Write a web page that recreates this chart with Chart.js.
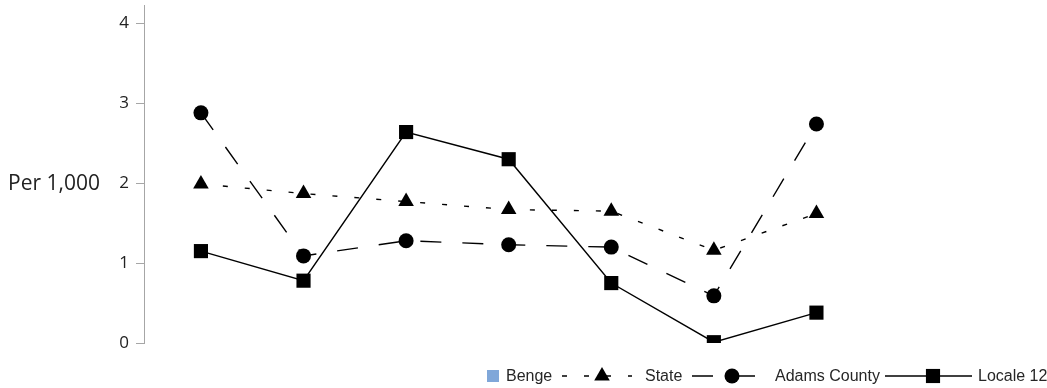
<!DOCTYPE html>
<html>
<head>
<meta charset="utf-8">
<script src="https://cdn.jsdelivr.net/npm/chart.js@4.4.0/dist/chart.umd.min.js"></script>
<style>
  body { margin: 0; background: #fff; }
  #wrap { width: 1047px; height: 388px; }
</style>
</head>
<body>
<div id="wrap"><canvas id="rateChart"></canvas></div>
<script>
// values, per 1,000
const categories = [1, 2, 3, 4, 5, 6, 7];
const benge = [];
const state = [1.99, 1.87, 1.77, 1.67, 1.65, 1.16, 1.62];
const adamsCounty = [2.88, 1.09, 1.28, 1.23, 1.20, 0.59, 2.74];
const locale12 = [1.15, 0.78, 2.64, 2.30, 0.75, 0.01, 0.38];
const yTicks = [0, 1, 2, 3, 4];
const yLabel = 'Per 1,000';

function points(values) {
  return values.map((v, i) => ({ x: categories.indexOf(categories[i]), y: v }));
}

// where each legend entry sits: sample start, sample width, marker offset, text start
const legendLayout = [
  { sample: 487, width: 12, marker: 6, text: 506 },
  { sample: 562, width: 70, marker: 40, text: 645 },
  { sample: 692, width: 65, marker: 40, text: 775 },
  { sample: 885, width: 87, marker: 48, text: 978 }
];

const customLegend = {
  id: 'customLegend',
  afterDraw(chart) {
    const ctx = chart.ctx;
    const ly = 376;
    ctx.save();

    // y axis title, horizontal
    ctx.fillStyle = '#222';
    ctx.font = '21px "Open Sans"';
    ctx.textAlign = 'left';
    ctx.textBaseline = 'middle';
    ctx.fillText(yLabel, 8, chart.scales.y.getPixelForValue(2) + 1);

    ctx.font = '16px "Liberation Sans", Arial';
    chart.data.datasets.forEach((ds, i) => {
      const pos = legendLayout[i];
      if (ds.swatch) {
        ctx.fillStyle = ds.backgroundColor;
        ctx.fillRect(pos.sample, ly - 6, 12, 12);
      } else {
        ctx.strokeStyle = ds.borderColor;
        ctx.lineWidth = ds.borderWidth;
        ctx.setLineDash(ds.borderDash || []);
        ctx.beginPath();
        ctx.moveTo(pos.sample, ly);
        ctx.lineTo(pos.sample + pos.width, ly);
        ctx.stroke();
        ctx.setLineDash([]);
        ctx.fillStyle = ds.pointBackgroundColor;
        Chart.helpers.drawPoint(ctx, {
          pointStyle: ds.pointStyle,
          radius: ds.pointRadius,
          rotation: 0,
          borderWidth: 0
        }, pos.sample + pos.marker, ly);
      }
      ctx.fillStyle = '#262626';
      ctx.fillText(ds.label, pos.text, ly + 1);
    });
    ctx.restore();
  }
};

const lineBase = {
  borderColor: '#000',
  borderWidth: 1.4,
  pointBackgroundColor: '#000',
  pointBorderColor: '#000',
  pointBorderWidth: 0,
  tension: 0,
  clip: 0
};

new Chart(document.getElementById('rateChart'), {
  type: 'line',
  data: {
    datasets: [
      {
        label: 'Benge',
        data: points(benge),
        swatch: true,
        backgroundColor: '#80a7d9',
        borderColor: '#80a7d9'
      },
      Object.assign({}, lineBase, {
        label: 'State',
        data: points(state),
        borderDash: [5, 17],
        pointStyle: 'triangle',
        pointRadius: 9
      }),
      Object.assign({}, lineBase, {
        label: 'Adams County',
        data: points(adamsCounty),
        borderDash: [21, 21],
        pointStyle: 'circle',
        pointRadius: 7.5
      }),
      Object.assign({}, lineBase, {
        label: 'Locale 12',
        data: points(locale12),
        pointStyle: 'rect',
        pointRadius: 10
      })
    ]
  },
  options: {
    responsive: true,
    maintainAspectRatio: false,
    animation: false,
    layout: {
      autoPadding: false,
      padding: { top: 5, right: 10, bottom: 45, left: 0 }
    },
    plugins: {
      legend: { display: false },
      tooltip: { enabled: false }
    },
    scales: {
      x: {
        type: 'linear',
        display: false,
        offset: false,
        min: -0.555,
        max: 8.15
      },
      y: {
        min: 0,
        max: 4.23,
        afterBuildTicks: (scale) => {
          scale.ticks = yTicks.map(v => ({ value: v }));
        },
        afterFit: (scale) => {
          scale.width = 144;
          scale.paddingTop = 0;
          scale.paddingBottom = 0;
        },
        grid: {
          drawOnChartArea: false,
          tickLength: 8,
          color: '#a6a6a6'
        },
        border: { color: '#a6a6a6' },
        ticks: {
          padding: 7,
          color: '#222',
          font: { family: 'Open Sans', size: 17 }
        }
      }
    }
  },
  plugins: [customLegend]
});
</script>
</body>
</html>
